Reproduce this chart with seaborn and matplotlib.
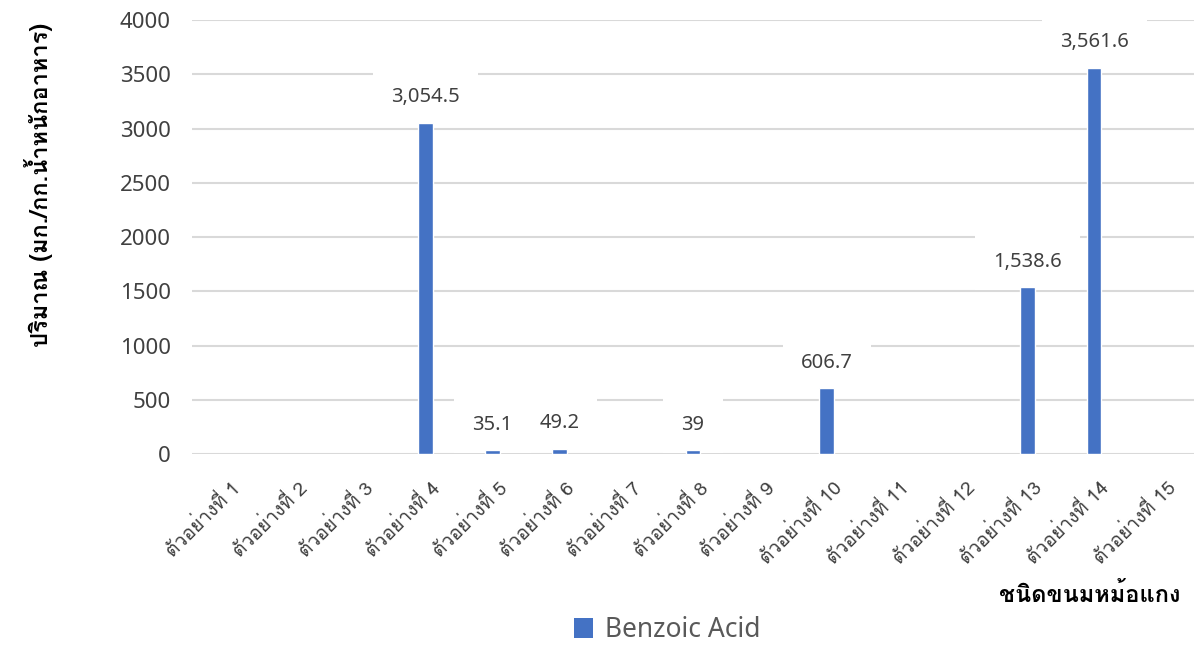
import numpy as np
import pandas as pd
import matplotlib
matplotlib.use("Agg")
import matplotlib.pyplot as plt
from matplotlib import font_manager, ft2font
from matplotlib.patches import Patch
from matplotlib.transforms import ScaledTranslation
import seaborn as sns

# Sample names, measured benzoic acid and axis texts
samples = [f"ตัวอย่างที่ {i}" for i in range(1, 16)]
benzoic = [np.nan, np.nan, np.nan, 3054.5, 35.1, 49.2, np.nan, 39,
           np.nan, 606.7, np.nan, np.nan, 1538.6, 3561.6, np.nan]
y_ticks = [0, 500, 1000, 1500, 2000, 2500, 3000, 3500, 4000]
series_name = "Benzoic Acid"
x_title = "ชนิดขนมหม้อแกง"
y_title = "ปริมาณ (มก./กก.น้ำหนักอาหาร)"


def thai_families():
    """Installed families whose regular face covers Thai script."""
    found = []
    for fe in font_manager.fontManager.ttflist:
        try:
            cmap = ft2font.FT2Font(fe.fname).get_charmap()
        except Exception:
            continue
        if 0x0E01 in cmap and 0x0E49 in cmap and fe.name not in found:
            found.append(fe.name)
    return found


sns.set_theme(style="white")
thai = thai_families()
plt.rcParams["font.family"] = thai + ["Noto Sans", "DejaVu Sans"]
LATIN = ["Noto Sans", "DejaVu Sans"]

BLUE = "#4472C4"
GRID = "#D9D9D9"
TEXT = "#404040"

df = pd.DataFrame({"sample": samples, "value": benzoic})

fig = plt.figure(figsize=(11.98, 6.45), dpi=100)
ax = fig.add_axes([0.160, 0.296, 0.837, 0.673])

# Bars sit above the label boxes so the boxes only hide grid lines
sns.barplot(data=df, x="sample", y="value", order=samples, color=BLUE,
            width=0.22, saturation=1, ax=ax, zorder=5)

ax.set_ylim(0, 4000)
ax.set_xlim(-0.5, len(samples) - 0.5)
ax.set_yticks(y_ticks)
ax.set_yticklabels([str(t) for t in y_ticks], fontsize=16, color=TEXT,
                   family=LATIN)
ax.yaxis.grid(True, color=GRID, linewidth=1.5)
ax.set_axisbelow(True)
for s in ax.spines.values():
    s.set_visible(False)
ax.tick_params(axis="y", length=0, pad=15)
ax.tick_params(axis="x", length=0, pad=0)
ax.set_xlabel("")
ax.set_ylabel("")
ax.set_xticks(range(len(samples)))
ax.set_xticklabels(samples, rotation=45, ha="right", va="center",
                   rotation_mode="anchor", fontsize=14, color=TEXT)
shift = ScaledTranslation(0.12, -0.31, fig.dpi_scale_trans)
for lbl in ax.get_xticklabels():
    lbl.set_transform(lbl.get_transform() + shift)

# Value labels above each measured bar, on white boxes over the grid
for i, v in enumerate(benzoic):
    if np.isnan(v):
        continue
    txt = f"{v:,.1f}".rstrip("0").rstrip(".") if v < 1000 else f"{v:,.1f}"
    ax.annotate(txt, (i, v), xytext=(0, 11), textcoords="offset points",
                ha="center", va="bottom", fontsize=14.5, color=TEXT, zorder=3,
                family=LATIN,
                bbox=dict(boxstyle="square,pad=0.9", fc="white", ec="none"))

fig.text(0.985, 0.077, x_title, ha="right", va="center", fontsize=17,
         fontweight="bold", color="black")
fig.text(0.032, 0.713, y_title, ha="center", va="center", rotation=90,
         fontsize=17, fontweight="bold", color="black")

handle = Patch(facecolor=BLUE, edgecolor="none")
fig.legend([handle], [series_name], loc="center", bbox_to_anchor=(0.557, 0.023),
           frameon=False, prop={"family": LATIN, "size": 19, "weight": "light"},
           handlelength=0.75, handleheight=0.75, handletextpad=0.45,
           labelcolor="#595959")

fig.savefig("out.png", dpi=100, facecolor="white")
